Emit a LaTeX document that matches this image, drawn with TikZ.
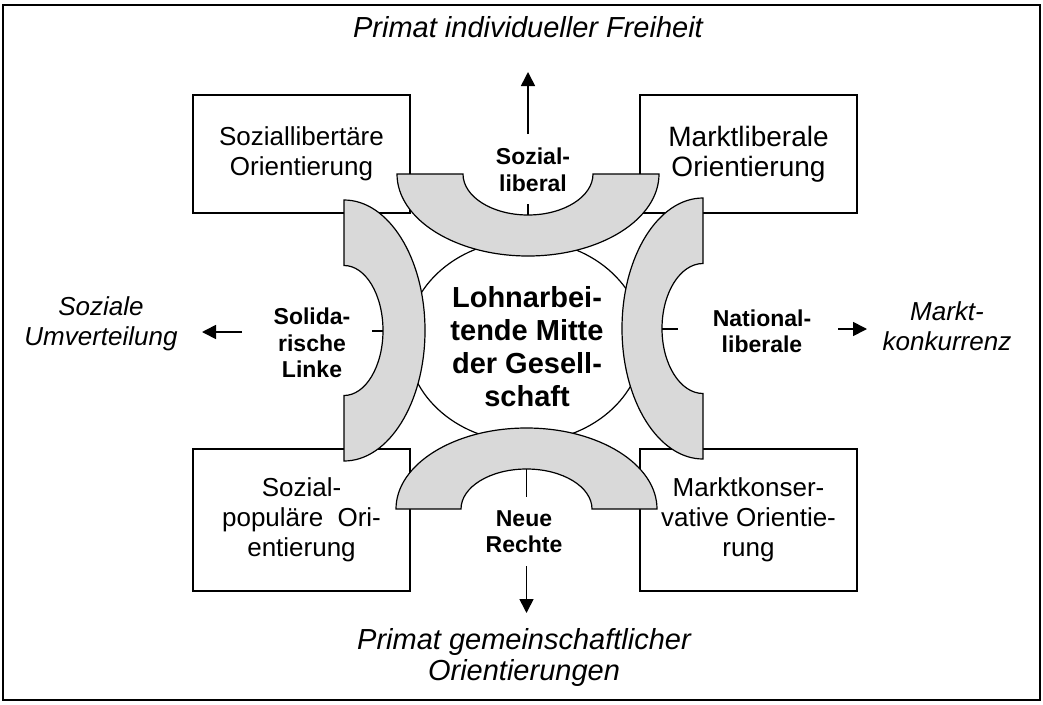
\documentclass[tikz,border=0pt]{standalone}
\usepackage{fontspec}
\setmainfont{Liberation Sans}
\usetikzlibrary{arrows.meta,shapes.geometric}
\definecolor{archgray}{RGB}{217,217,217}
\begin{document}
\begin{tikzpicture}[x=1pt,y=-1pt,
  box/.style={draw,line width=1.6pt,inner sep=0pt,align=center,minimum width=217pt},
  boxtext/.style={font=\fontsize{26}{30}\selectfont},
  arch/.style={draw,line width=1.2pt,fill=archgray},
  tick/.style={line width=1.2pt},
  arr/.style={line width=1.6pt,-{Triangle[length=14pt,width=14pt]}},
  pole/.style={align=center,font=\fontsize{29}{31}\selectfont\itshape},
  sidepole/.style={align=center,font=\fontsize{26}{30}\selectfont\itshape},
  lbl/.style={align=center,font=\fontsize{23}{26.5}\selectfont\bfseries},
  midtext/.style={align=center,font=\fontsize{29}{33}\selectfont\bfseries}]
\useasboundingbox (0,0) rectangle (1043,704);
% outer frame
\draw[line width=1.6pt] (3,5) rectangle (1040,700);
% corner boxes
\node[box,boxtext,minimum height=118pt] (tl) at (301.5,154) {Soziallibertäre\\Orientierung};
\node[box,font=\fontsize{28}{30}\selectfont,minimum height=118pt] (tr) at (748.5,154) {Marktliberale\\Orientierung};
\node[box,boxtext,minimum height=142pt] (bl) at (301.5,520) {Sozial-\\populäre\hspace{0.55em}Ori-\\entierung};
\node[box,boxtext,minimum height=142pt] (br) at (748.5,520) {Marktkonser-\\vative Orientie-\\rung};
% centre ellipse
\node[ellipse,draw,line width=1.2pt,fill=white,minimum width=236pt,minimum height=202pt,inner sep=0pt] (mid) at (525,341) {};
% arches
\path[arch] (397,174) -- (463,174) arc[start angle=180,end angle=360,x radius=65pt,y radius=41pt]
  -- (659,174) arc[start angle=0,end angle=-180,x radius=131pt,y radius=82pt] -- cycle;
\path[arch] (396,509) -- (461,509) arc[start angle=180,end angle=0,x radius=65.5pt,y radius=40pt]
  -- (657,509) arc[start angle=0,end angle=180,x radius=130.5pt,y radius=81pt] -- cycle;
\path[arch] (344,200) -- (344,265.5) arc[start angle=90,end angle=-90,x radius=39pt,y radius=65pt]
  -- (344,461) arc[start angle=-90,end angle=90,x radius=81pt,y radius=130.5pt] -- cycle;
\path[arch] (703,198) -- (703,263.5) arc[start angle=90,end angle=270,x radius=41pt,y radius=65pt]
  -- (703,459) arc[start angle=270,end angle=90,x radius=81pt,y radius=130.5pt] -- cycle;
% ticks
\coordinate (t1a) at (528,204); \coordinate (t1b) at (528,215);
\coordinate (t2a) at (526.5,469); \coordinate (t2b) at (526.5,497);
\coordinate (t3a) at (372,331); \coordinate (t3b) at (383,331);
\coordinate (t4a) at (662,329); \coordinate (t4b) at (678,329);
\draw[tick] (t1a) -- (t1b);
\draw[tick] (t2a) -- (t2b);
\draw[tick] (t3a) -- (t3b);
\draw[tick] (t4a) -- (t4b);
% arrows
\coordinate (a1s) at (528,134); \coordinate (a1e) at (528,72);
\coordinate (a2s) at (526.5,566); \coordinate (a2e) at (526.5,613);
\coordinate (a3s) at (242,332); \coordinate (a3e) at (202,332);
\coordinate (a4s) at (838,329); \coordinate (a4e) at (867,329);
\draw[arr] (a1s) -- (a1e);
\draw[arr] (a2s) -- (a2e);
\draw[arr] (a3s) -- (a3e);
\draw[arr] (a4s) -- (a4e);
% labels
\node[pole] (ptop) at (528,27) {Primat individueller Freiheit};
\node[pole] (pbot) at (524,657) {Primat gemeinschaftlicher\\Orientierungen};
\node[sidepole] (pleft) at (101,323.5) {Soziale\\Umverteilung};
\node[sidepole] (pright) at (947,326) {Markt-\\konkurrenz};
\node[lbl] (lsl) at (533,170) {Sozial-\\liberal};
\node[lbl] (lsol) at (312,343) {Solida-\\rische\\Linke};
\node[lbl] (lnat) at (762,331.5) {National-\\liberale};
\node[lbl] (lneu) at (524,531.5) {Neue\\Rechte};
\node[midtext] (mtext) at (527,347) {Lohnarbei-\\tende Mitte\\der Gesell-\\schaft};
\end{tikzpicture}
\end{document}
